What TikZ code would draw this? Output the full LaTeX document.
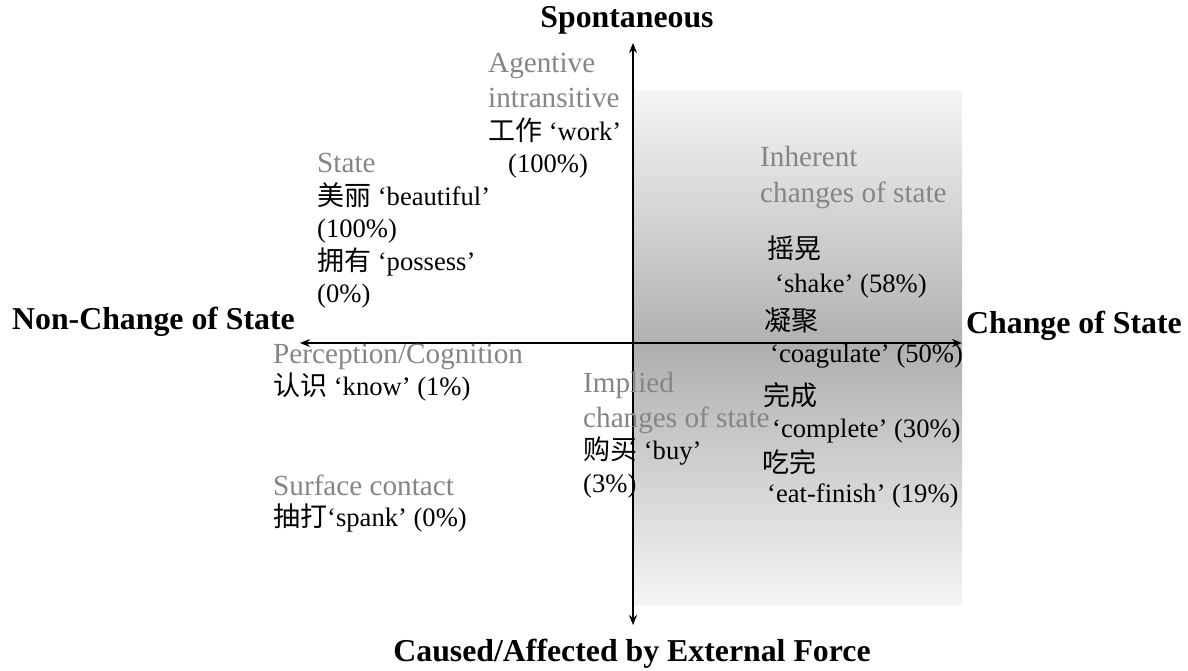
\documentclass[tikz,border=0pt]{standalone}
\usepackage{fontspec}
\setmainfont{Liberation Serif}
\newfontfamily\cjk{Noto Sans CJK SC}
\usetikzlibrary{arrows.meta}
\newcommand\zh[1]{{\cjk\fontsize{27}{32}\selectfont #1}}
\definecolor{catgray}{gray}{0.52}
\tikzset{
  lbl/.style={anchor=base west, inner sep=0pt, font=\fontsize{26.6}{32}\selectfont},
  cat/.style={lbl, text=catgray, font=\fontsize{29.2}{34}\selectfont},
  axislbl/.style={inner sep=0pt, anchor=base, font=\fontsize{31.8}{36}\selectfont\bfseries},
  axisline/.style={line width=1.8pt, {Stealth[length=10pt,width=8pt]}-{Stealth[length=10pt,width=8pt]}}
}
\begin{document}
\begin{tikzpicture}[x=1pt,y=-1pt]
\useasboundingbox (0,0) rectangle (1188,671);
% shaded region
\shade[shading=axis, top color=gray!8, bottom color=gray!8, middle color=gray!62] (633,91) rectangle (962,605);
% axes
\coordinate (top) at (633,43);
\coordinate (bot) at (633,625);
\coordinate (left) at (300,343);
\coordinate (right) at (962,343);
\draw[axisline] (bot) -- (top);
\draw[axisline] (left) -- (right);
% axis labels
\node[axislbl] (spon) at (627,28) {Spontaneous};
\node[axislbl] (caus) at (632,661) {Caused/Affected by External Force};
\node[axislbl, anchor=base west] (ncos) at (12,329) {Non-Change of State};
\node[axislbl, anchor=base west] (cos) at (966,333) {Change of State};
% Agentive intransitive
\node[cat] (ag1) at (488,73) {Agentive};
\node[cat] (ag2) at (488,108) {intransitive};
\node[lbl] (ag3) at (488,141) {\zh{工作} ‘work’};
\node[lbl] (ag4) at (508,173) {(100\%)};
% State
\node[cat] (st1) at (317,173) {State};
\node[lbl] (st2) at (317,205) {\zh{美丽} ‘beautiful’};
\node[lbl] (st3) at (317,237) {(100\%)};
\node[lbl] (st4) at (317,270) {\zh{拥有} ‘possess’};
\node[lbl] (st5) at (317,302) {(0\%)};
% Perception
\node[cat] (pc1) at (273,363) {Perception/Cognition};
\node[lbl] (pc2) at (273,395) {\zh{认识} ‘know’ (1\%)};
% Surface contact
\node[cat] (sc1) at (273,495) {Surface contact};
\node[lbl] (sc2) at (273,526) {\zh{抽打}‘spank’ (0\%)};
% Implied
\node[cat] (im1) at (583,392) {Implied};
\node[cat] (im2) at (583,427) {changes of state};
\node[lbl] (im3) at (583,459) {\zh{购买} ‘buy’};
\node[lbl] (im4) at (583,492) {(3\%)};
% Inherent
\node[cat] (ih1) at (760,167) {Inherent};
\node[cat] (ih2) at (760,203) {changes of state};
\node[lbl] (ih3) at (767,258) {\zh{摇晃}};
\node[lbl] (ih4) at (775,292) {‘shake’ (58\%)};
\node[lbl] (ih5) at (764,330) {\zh{凝聚}};
\node[lbl] (ih6) at (770,362) {‘coagulate’ (50\%)};
\node[lbl] (ih7) at (763,405) {\zh{完成}};
\node[lbl] (ih8) at (772,437) {‘complete’ (30\%)};
\node[lbl] (ih9) at (762,472) {\zh{吃完}};
\node[lbl] (ih10) at (767,502) {‘eat-finish’ (19\%)};
\end{tikzpicture}
\end{document}
